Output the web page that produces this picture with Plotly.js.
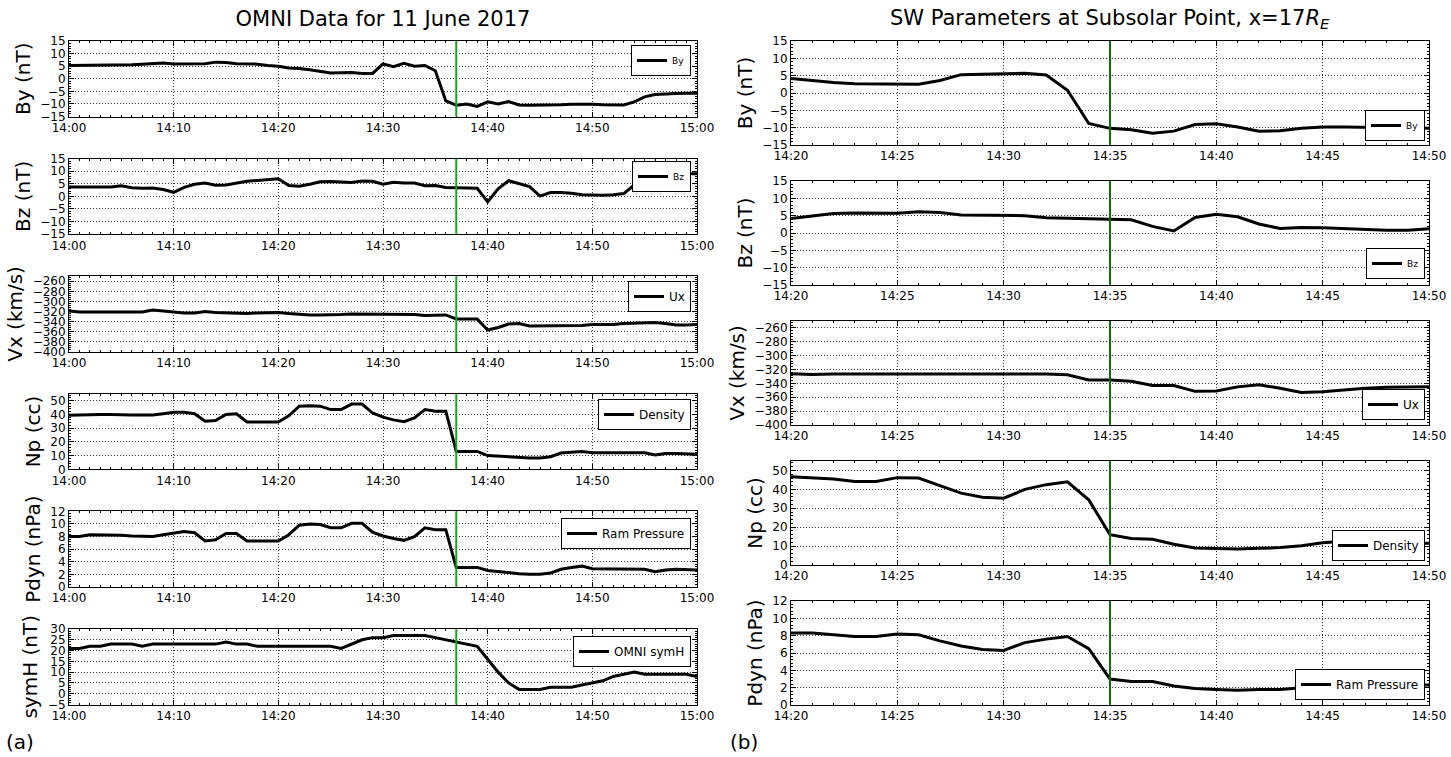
<!DOCTYPE html>
<html><head><meta charset="utf-8">
<script src="https://cdn.plot.ly/plotly-3.0.1.min.js"></script>
<style>html,body{margin:0;padding:0;background:#fff}#chart{width:1451px;height:757px}</style>
</head><body><div id="chart"></div><script>
const DAY = '2017-06-11 ';
const leftTime = ['14:00','14:01','14:02','14:03','14:04','14:05','14:06','14:07','14:08','14:09',
 '14:10','14:11','14:12','14:13','14:14','14:15','14:16','14:17','14:18','14:19',
 '14:20','14:21','14:22','14:23','14:24','14:25','14:26','14:27','14:28','14:29',
 '14:30','14:31','14:32','14:33','14:34','14:35','14:36','14:37','14:38','14:39',
 '14:40','14:41','14:42','14:43','14:44','14:45','14:46','14:47','14:48','14:49',
 '14:50','14:51','14:52','14:53','14:54','14:55','14:56','14:57','14:58','14:59','15:00'];
const rightTime = ['14:20','14:21','14:22','14:23','14:24','14:25','14:26','14:27','14:28','14:29',
 '14:30','14:31','14:32','14:33','14:34','14:35','14:36','14:37','14:38','14:39',
 '14:40','14:41','14:42','14:43','14:44','14:45','14:46','14:47','14:48','14:49','14:50'];

const leftBy = [5.3,5.3,5.4,5.6,5.5,5.3,5.6,5.8,6.0,6.3,
 5.9,5.9,6.0,6.0,6.6,6.5,6.0,5.8,5.8,5.3,
 5.0,4.3,4.1,3.6,2.9,2.3,2.4,2.5,2.1,2.1,
 5.9,4.8,6.1,5.0,5.3,3.2,-8.8,-10.5,-10.0,-11.0,
 -9.2,-10.0,-9.1,-10.4,-10.5,-10.5,-10.4,-10.3,-10.1,-10.0,
 -10.1,-10.3,-10.3,-10.4,-9.2,-7.2,-6.3,-6.0,-5.9,-5.8,-5.8];
const leftBz = [3.7,3.7,3.6,3.6,3.7,4.2,3.4,3.2,3.3,2.7,
 1.6,3.6,4.8,5.3,4.4,4.5,5.2,6.0,6.3,6.5,
 7.0,4.3,4.0,4.8,5.8,5.9,5.8,5.5,6.1,6.0,
 4.8,5.6,5.3,5.3,4.2,4.3,3.5,3.4,3.3,3.2,
 -2.2,3.0,6.2,5.0,3.9,0.1,1.5,1.5,1.2,0.6,
 0.4,0.4,0.6,1.1,4.5,8.2,8.6,8.8,9.0,9.0,9.0];
const leftVx = [-319,-321,-321,-321,-321,-321,-321,-321,-317,-319,
 -322,-323,-323,-320,-322,-323,-323,-324,-323,-322,
 -322,-324,-326,-327,-327,-327,-326,-325,-325,-326,
 -326,-326,-326,-326,-328,-327,-327,-335,-335,-335,
 -357,-352,-345,-344,-349,-349,-349,-348,-348,-348,
 -346,-346,-346,-344,-343,-342,-342,-344,-347,-347,-346];
const leftNp = [39.3,39.5,40.2,40,40,39.5,39.5,39.5,39.5,40.5,
 41.5,41.5,40.5,35,35.5,40,40.5,34.5,34.5,34.5,
 34.5,39,46,46.3,46,43.5,43.5,47.5,47.5,41,
 38,36,34.7,37.5,43.5,42.3,42.3,13,13,13,
 10,9.5,9,9,8.3,8.3,9.2,11.8,12.5,13,
 12,12,12,12,12,12,10.5,11.5,11.5,11.5,11];
const leftPdyn = [8.0,8.0,8.3,8.3,8.3,8.2,8.1,8.1,8.0,8.3,
 8.6,8.8,8.6,7.3,7.5,8.5,8.5,7.3,7.3,7.3,
 7.3,8.3,9.8,10,9.9,9.4,9.4,10.1,10.1,8.7,
 8.1,7.7,7.4,8.0,9.4,9.1,9.1,3.1,3.1,3.1,
 2.6,2.4,2.2,2.1,2.0,2.0,2.2,2.8,3.1,3.3,
 2.9,2.9,2.9,2.8,2.8,2.8,2.4,2.7,2.8,2.8,2.7];
const leftSymH = [21,21,22,22,23,23,23,22,23,23,
 23,23,23,23,23,24,23,23,22,22,
 22,22,22,22,22,22,21,23,25,26,
 26,27,27,27,27,26,25,24,23,22,
 16,10,5,2,2,2,3,3,3,4,
 5,6,8,9,10,9,9,9,9,9,8];

const rightBy = [4.2,3.6,3.0,2.7,2.7,2.6,2.5,3.6,5.3,5.4,5.6,5.7,5.2,0.8,-8.8,-10.2,-10.6,-11.6,-11.0,-9.1,-8.9,-9.8,-11.0,-10.9,-10.2,-9.8,-9.8,-9.9,-10.1,-10.2,-10.2];
const rightBz = [4.2,5.0,5.6,5.8,5.8,5.7,6.1,5.9,5.2,5.1,5.1,5.0,4.4,4.3,4.1,3.9,3.8,1.9,0.6,4.5,5.4,4.7,2.6,1.3,1.6,1.5,1.2,0.9,0.8,0.8,1.2];
const rightVx = [-326,-327,-326.5,-326.5,-326.5,-325.5,-325.5,-325.5,-325.5,-326,-326,-326,-326.5,-327.5,-335,-335,-337,-343,-343,-351.5,-351,-345,-342,-347,-353,-352,-349,-347,-345.5,-345.5,-345];
const rightNp = [46.7,46.3,45.5,44.2,44.2,46.2,46,42,38,35.8,35.3,40,42.5,44,34.5,16,14,13.6,11,9,8.6,8.5,8.8,9.2,10.2,11.8,12.5,12.6,12,11.5,11.5];
const rightPdyn = [8.3,8.3,8.1,7.9,7.9,8.2,8.1,7.4,6.8,6.4,6.3,7.2,7.6,7.9,6.5,3.0,2.7,2.7,2.2,1.9,1.8,1.7,1.8,1.8,2.0,2.2,2.4,2.4,2.3,2.3,2.3];

const eventLeft = '14:37';
const eventRight = '14:35';
const leftTitle = 'OMNI Data for 11 June 2017';
const rightTitle = 'SW Parameters at Subsolar Point, x=17<i>R<sub>E</sub></i>';

// ---------- layout (pixels) ----------
const W = 1451, H = 757;
const FONT = 'DejaVu Sans, Liberation Sans, sans-serif';
const fx = p => p / W, fy = p => 1 - p / H;

const L = {x0: 69, x1: 697, top: 41, h: 75.5, pitch: 117.6};
const R = {x0: 791, x1: 1429, top: 41, h: 104, pitch: 140};

const panels = [
 {col:'L', i:0, t:leftTime, v:leftBy, name:'By', yt:'By (nT)', range:[-15,15], dtick:5, lg:{x:691, y:45, anchor:'top', fs:9}},
 {col:'L', i:1, t:leftTime, v:leftBz, name:'Bz', yt:'Bz (nT)', range:[-15,15], dtick:5, lg:{x:691, y:161, anchor:'top', fs:9}},
 {col:'L', i:2, t:leftTime, v:leftVx, name:'Ux', yt:'Vx (km/s)', range:[-400,-250], dtick:20, tick0:-400, lg:{x:691, y:281, anchor:'top', fs:12}},
 {col:'L', i:3, t:leftTime, v:leftNp, name:'Density', yt:'Np (cc)', range:[0,55], dtick:10, lg:{x:691, y:399, anchor:'top', fs:12}},
 {col:'L', i:4, t:leftTime, v:leftPdyn, name:'Ram Pressure', yt:'Pdyn (nPa)', range:[0,12], dtick:2, lg:{x:691, y:518, anchor:'top', fs:12}},
 {col:'L', i:5, t:leftTime, v:leftSymH, name:'OMNI symH', yt:'symH (nT)', range:[-5,30], dtick:5, lg:{x:691, y:636, anchor:'top', fs:12}},
 {col:'R', i:0, t:rightTime, v:rightBy, name:'By', yt:'By (nT)', range:[-15,15], dtick:5, lg:{x:1425, y:141, anchor:'bottom', fs:9}},
 {col:'R', i:1, t:rightTime, v:rightBz, name:'Bz', yt:'Bz (nT)', range:[-15,15], dtick:5, lg:{x:1425, y:279, anchor:'bottom', fs:9}},
 {col:'R', i:2, t:rightTime, v:rightVx, name:'Ux', yt:'Vx (km/s)', range:[-400,-250], dtick:20, tick0:-400, lg:{x:1425, y:420, anchor:'bottom', fs:12}},
 {col:'R', i:3, t:rightTime, v:rightNp, name:'Density', yt:'Np (cc)', range:[0,55], dtick:10, lg:{x:1425, y:561, anchor:'bottom', fs:12}},
 {col:'R', i:4, t:rightTime, v:rightPdyn, name:'Ram Pressure', yt:'Pdyn (nPa)', range:[0,12], dtick:2, lg:{x:1425, y:700, anchor:'bottom', fs:12}},
];

const traces = [];
const layout = {
  width: W, height: H,
  margin: {l:0, r:0, t:0, b:0, pad:0},
  paper_bgcolor: '#fff', plot_bgcolor: '#fff',
  font: {family: FONT, color: '#000', size: 12},
  showlegend: true,
  title: {text: leftTitle, x: fx((L.x0+L.x1)/2), xanchor:'center', xref:'paper', y: fy(19), yanchor:'middle', yref:'container', font:{size:21, family:FONT}},
  shapes: [],
  annotations: [
    {text: rightTitle, x: fx((R.x0+R.x1)/2), y: fy(19), xref:'paper', yref:'paper', xanchor:'center', yanchor:'middle', showarrow:false, font:{size:21, family:FONT}},
    {text:'(a)', x: fx(4), y: fy(742), xref:'paper', yref:'paper', xanchor:'left', yanchor:'middle', showarrow:false, font:{size:20, family:FONT}},
    {text:'(b)', x: fx(728), y: fy(742), xref:'paper', yref:'paper', xanchor:'left', yanchor:'middle', showarrow:false, font:{size:20, family:FONT}}
  ]
};

panels.forEach((p, k) => {
  const n = k + 1;
  const sfx = n === 1 ? '' : String(n);
  const G = p.col === 'L' ? L : R;
  const top = G.top + p.i * G.pitch, bot = top + G.h;
  const legName = n === 1 ? 'legend' : 'legend' + n;
  traces.push({
    type:'scatter', mode:'lines', name: p.name,
    x: p.t.map(s => DAY + s), y: p.v,
    xaxis: 'x' + sfx, yaxis: 'y' + sfx, legend: legName,
    line: {color:'#000', width:3}
  });
  const isL = p.col === 'L';
  layout['xaxis' + sfx] = {
    type:'date', domain:[fx(G.x0), fx(G.x1)], anchor:'y' + sfx,
    range: isL ? [DAY+'14:00', DAY+'15:00'] : [DAY+'14:20', DAY+'14:50'],
    tick0: DAY + (isL ? '14:00' : '14:20'), dtick: isL ? 600000 : 300000, tickformat:'%H:%M',
    ticks:'inside', ticklen:5, tickcolor:'#000', mirror:'ticks', showline:true, linecolor:'#000', linewidth:1,
    showgrid:true, gridcolor:'#000', gridwidth:0.8, griddash:'1px,2px', zeroline:false,
    tickfont:{size:12, family:FONT}, fixedrange:true,
    minor:{ticks:'inside', ticklen:2, dtick:60000, tickcolor:'#000', showgrid:false}
  };
  layout['yaxis' + sfx] = {
    domain:[fy(bot), fy(top)], anchor:'x' + sfx, range: p.range,
    tick0: p.tick0 !== undefined ? p.tick0 : 0, dtick: p.dtick,
    ticks:'inside', ticklen:5, tickcolor:'#000', mirror:'ticks', showline:true, linecolor:'#000', linewidth:1,
    showgrid:true, gridcolor:'#000', gridwidth:0.8, griddash:'1px,2px', zeroline:false,
    tickfont:{size:12, family:FONT}, fixedrange:true,
    title:{text:p.yt, font:{size:20, family:FONT}, standoff:4},
    minor:{ticks:'inside', ticklen:2, dtick:p.dtick/5, tickcolor:'#000', showgrid:false}
  };
  layout[legName] = {
    x: fx(p.lg.x), y: fy(p.lg.y), xanchor:'right', yanchor:p.lg.anchor, xref:'paper', yref:'paper',
    bgcolor:'#fff', bordercolor:'#000', borderwidth:1, itemwidth:30,
    font:{size:p.lg.fs, family:FONT}, tracegroupgap:0
  };
  layout.shapes.push({
    type:'line', xref:'x' + sfx, yref:'y' + sfx + ' domain',
    x0: DAY + (isL ? eventLeft : eventRight), x1: DAY + (isL ? eventLeft : eventRight), y0:0, y1:1,
    line:{color: isL ? '#1ea01e' : '#0a700a', width:2}, layer:'above'
  });
});

Plotly.newPlot('chart', traces, layout, {staticPlot:true, displayModeBar:false});
</script></body></html>
